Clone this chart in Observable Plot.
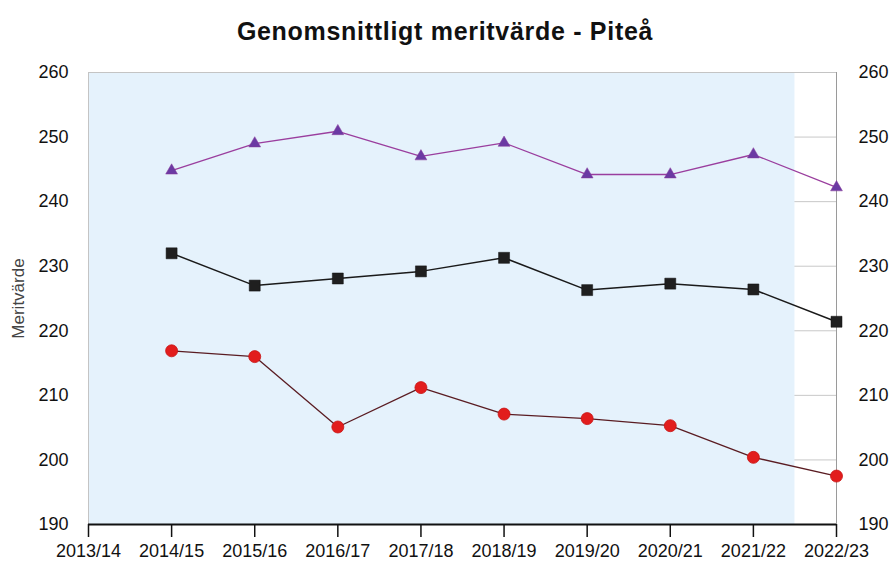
<!DOCTYPE html>
<html>
<head>
<meta charset="utf-8">
<script src="https://cdn.jsdelivr.net/npm/d3@7"></script>
<script src="https://cdn.jsdelivr.net/npm/@observablehq/plot@0.6"></script>
<style>
  body { margin: 0; background: #fff; font-family: "Liberation Sans", Arial, sans-serif; }
  #title { height: 50px; box-sizing: border-box; padding-top: 18px; text-align: center; font-weight: bold; font-size: 25px; letter-spacing: 0.7px; color: #111; line-height: 26px; }
</style>
</head>
<body>
<div id="title">Genomsnittligt meritvärde - Piteå</div>
<div id="chart"></div>
<script>
const years = ["2013/14","2014/15","2015/16","2016/17","2017/18","2018/19","2019/20","2020/21","2021/22","2022/23"];
const seriesTriangle = [null, 244.8, 249.0, 250.9, 247.0, 249.1, 244.2, 244.2, 247.3, 242.2];
const seriesSquare   = [null, 232.0, 227.0, 228.1, 229.2, 231.3, 226.3, 227.3, 226.4, 221.4];
const seriesCircle   = [null, 216.9, 216.0, 205.1, 211.2, 207.1, 206.4, 205.3, 200.4, 197.5];
const yTicks = [190, 200, 210, 220, 230, 240, 250, 260];
const gridTicks = [200, 210, 220, 230, 240, 250];

const toRows = (arr) => arr.map((v, i) => ({i, v})).filter(d => d.v != null);
const tri = toRows(seriesTriangle), sq = toRows(seriesSquare), circ = toRows(seriesCircle);

const chart = Plot.plot({
  width: 890,
  height: 513,
  marginLeft: 88,
  marginRight: 54,
  marginTop: 22,
  marginBottom: 39,
  style: {fontFamily: '"Liberation Sans", Arial, sans-serif', fontSize: "18px", color: "#111", background: "transparent"},
  x: {type: "linear", domain: [0, years.length - 1]},
  y: {domain: [190, 260]},
  marks: [
    Plot.ruleY(gridTicks, {stroke: "#c8c8c8", strokeWidth: 1}),
    Plot.rect([{x1: 0, x2: 8.5, y1: 190, y2: 260}], {x1: "x1", x2: "x2", y1: "y1", y2: "y2", fill: "#e5f2fc"}),
    Plot.ruleY([260], {stroke: "#c4c4c4", strokeWidth: 1}),
    Plot.ruleX([0], {stroke: "#c4c4c4", strokeWidth: 1}),
    Plot.ruleX([years.length - 1], {stroke: "#9a9a9a", strokeWidth: 1}),
    Plot.axisY({anchor: "left", ticks: yTicks, tickSize: 0, tickPadding: 20, label: null}),
    Plot.axisY({anchor: "right", ticks: yTicks, tickSize: 0, tickPadding: 22, label: null}),
    Plot.axisX({anchor: "bottom", ticks: d3.range(years.length), tickFormat: i => years[i], tickSize: 13, tickPadding: 7, label: null, stroke: "#111", strokeWidth: 1.5}),
    Plot.ruleY([190], {stroke: "#111", strokeWidth: 2}),
    Plot.text(["Meritvärde"], {frameAnchor: "left", textAnchor: "middle", rotate: -90, dx: -70, fontSize: 17, fill: "#444"}),
    Plot.line(tri, {x: "i", y: "v", stroke: "#9a3e9e", strokeWidth: 1.3}),
    Plot.line(sq, {x: "i", y: "v", stroke: "#1a1a1a", strokeWidth: 1.5}),
    Plot.line(circ, {x: "i", y: "v", stroke: "#5a1c22", strokeWidth: 1.3}),
    Plot.dot(tri, {x: "i", y: "v", symbol: "triangle", r: 4.4, fill: "#6b3aa3", stroke: "#8a3a9a", strokeWidth: 0.5}),
    Plot.dot(sq, {x: "i", y: "v", symbol: "square", r: 6.2, fill: "#1f1f1f", stroke: "#111", strokeWidth: 0.5}),
    Plot.dot(circ, {x: "i", y: "v", symbol: "circle", r: 6, fill: "#e21d1d", stroke: "#c81414", strokeWidth: 0.8})
  ]
});
document.getElementById("chart").appendChild(chart);
</script>
</body>
</html>
